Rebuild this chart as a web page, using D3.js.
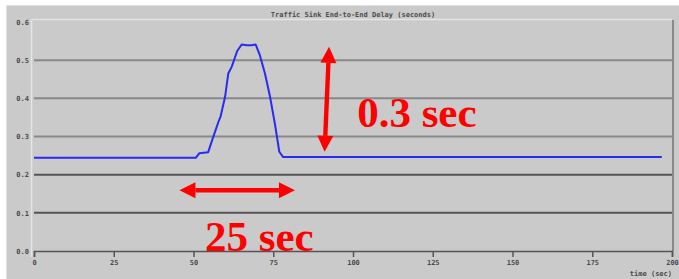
<!DOCTYPE html>
<html>
<head>
<meta charset="utf-8">
<script src="https://cdn.jsdelivr.net/npm/d3@7"></script>
<style>
  body { margin: 0; background: #fff; }
  svg { display: block; }
  .lbl { font-family: "DejaVu Sans Mono", monospace; font-size: 7px; font-weight: bold; fill: #4a4a4a; }
  .note { font-family: "Liberation Serif", "Times New Roman", serif; font-weight: bold; font-size: 43px; fill: #ff0000; }
</style>
</head>
<body>
<svg id="chart" width="679" height="279"></svg>
<script>
// delay samples: time (sec), delay (sec)
var times  = [0, 50.7, 51.8, 54.6, 56.2, 57.8, 58.5, 59.9, 60.9, 62.0, 63.7, 65.1, 66.7, 68.2, 69.5, 70.8, 72.4, 74.0, 75.5, 76.9, 78.1, 196.8];
var delays = [0.244, 0.244, 0.256, 0.259, 0.299, 0.338, 0.353, 0.404, 0.465, 0.483, 0.524, 0.541, 0.539, 0.539, 0.541, 0.513, 0.465, 0.404, 0.334, 0.26, 0.246, 0.246];

var xTicks = [0, 25, 50, 75, 100, 125, 150, 175, 200];
var yTicks = [0.0, 0.1, 0.2, 0.3, 0.4, 0.5, 0.6];
var title = "Traffic Sink End-to-End Delay (seconds)";
var xLabel = "time (sec)";

// annotation arrows and their captions, in data units
var spanArrow = {t0: 45.6, t1: 81.8, v: 0.159, text: "25 sec", tt: 53.6, tv: 0.0};
var jumpArrow = {t0: 92.5, v0: 0.535, t1: 91.1, v1: 0.26, text: "0.3 sec", tt: 101.3, tv: 0.325};

function draw() {
    var svg = d3.select("#chart"),
        margins = {"left": 34, "right": 7, "top": 22, "bottom": 28},
        width = 679, height = 279;

    var x = d3.scaleLinear().domain([0, 200]).range([margins.left, width - margins.right]),
        y = d3.scaleLinear().domain([0, 0.6]).range([height - margins.bottom, margins.top]);

    // grey panel
    svg.append("rect").attr("x", 6.5).attr("y", 5.5).attr("width", 680).attr("height", 280)
        .attr("fill", "#cacaca").attr("stroke", "#e2e2e2");

    // plot frame, light on top/left, dark on right
    svg.append("line").attr("x1", x(0) - 2).attr("x2", x(200)).attr("y1", 19.5).attr("y2", 19.5)
        .attr("stroke", "#e4e4e4").attr("stroke-width", 1.5);
    svg.append("line").attr("x1", 31.5).attr("x2", 31.5).attr("y1", 19.5).attr("y2", y(0) + 6)
        .attr("stroke", "#e4e4e4").attr("stroke-width", 1.5);
    svg.append("line").attr("x1", x(200) + 1).attr("x2", x(200) + 1).attr("y1", 20).attr("y2", y(0))
        .attr("stroke", "#8a8a8a").attr("stroke-width", 2);

    // horizontal grid
    svg.append("g").selectAll("line")
        .data(yTicks.filter(function(v) { return v > 0 && v < 0.6; }))
        .enter().append("line")
        .attr("x1", x(0)).attr("x2", x(200))
        .attr("y1", function(d) { return y(d); }).attr("y2", function(d) { return y(d); })
        .attr("stroke", function(d) { return d <= 0.2 ? "#555" : "#888"; })
        .attr("stroke-width", 2);

    // bottom axis
    var xaxis = svg.append("g").attr("transform", "translate(0," + y(0) + ")")
        .call(d3.axisBottom(x).tickValues(xTicks).tickSize(6).tickPadding(3).tickFormat(d3.format("d")));
    xaxis.select(".domain").attr("stroke", "#555").attr("stroke-width", 1.5);
    xaxis.selectAll(".tick line").attr("stroke", "#555").attr("stroke-width", 1.5);
    xaxis.selectAll(".tick text").attr("class", "lbl").attr("fill", null).attr("font-size", null).attr("font-family", null);

    // left labels only
    var yaxis = svg.append("g").attr("transform", "translate(" + (margins.left - 5) + ",0)")
        .call(d3.axisLeft(y).tickValues(yTicks).tickSize(0).tickPadding(0).tickFormat(d3.format(".1f")));
    yaxis.select(".domain").remove();
    yaxis.selectAll(".tick text").attr("class", "lbl").attr("fill", null).attr("font-size", null).attr("font-family", null);

    svg.append("text").attr("class", "lbl").attr("x", (x(0) + x(200)) / 2).attr("y", 17)
        .attr("text-anchor", "middle").text(title);
    svg.append("text").attr("class", "lbl").attr("x", x(200)).attr("y", 276)
        .attr("text-anchor", "end").text(xLabel);

    // delay series
    var line = d3.line().x(function(d) { return x(d[0]); }).y(function(d) { return y(d[1]); });
    svg.append("path").datum(d3.zip(times, delays))
        .attr("fill", "none").attr("stroke", "#2a2af5").attr("stroke-width", 2)
        .attr("stroke-linejoin", "round").attr("d", line);

    // red arrows
    function arrow(x0, y0, x1, y1) {
        var dx = x1 - x0, dy = y1 - y0, len = Math.sqrt(dx * dx + dy * dy),
            ux = dx / len, uy = dy / len, px = -uy, py = ux,
            head = 16, hw = 8, sw = 2.2;
        var g = svg.append("g").attr("fill", "#ff0000");
        g.append("path").attr("d", d3.line()([
            [x0 + ux * head + px * sw, y0 + uy * head + py * sw],
            [x1 - ux * head + px * sw, y1 - uy * head + py * sw],
            [x1 - ux * head - px * sw, y1 - uy * head - py * sw],
            [x0 + ux * head - px * sw, y0 + uy * head - py * sw]]) + "Z");
        g.append("path").attr("d", d3.line()([
            [x0, y0], [x0 + ux * head + px * hw, y0 + uy * head + py * hw],
            [x0 + ux * head - px * hw, y0 + uy * head - py * hw]]) + "Z");
        g.append("path").attr("d", d3.line()([
            [x1, y1], [x1 - ux * head + px * hw, y1 - uy * head + py * hw],
            [x1 - ux * head - px * hw, y1 - uy * head - py * hw]]) + "Z");
    }

    [spanArrow, jumpArrow].forEach(function(a) {
        if(a.v !== undefined) {
            arrow(x(a.t0), y(a.v), x(a.t1), y(a.v));
        } else {
            arrow(x(a.t0), y(a.v0), x(a.t1), y(a.v1));
        }
        svg.append("text").attr("class", "note").attr("x", x(a.tt)).attr("y", y(a.tv)).text(a.text);
    });
}

draw();
</script>
</body>
</html>
